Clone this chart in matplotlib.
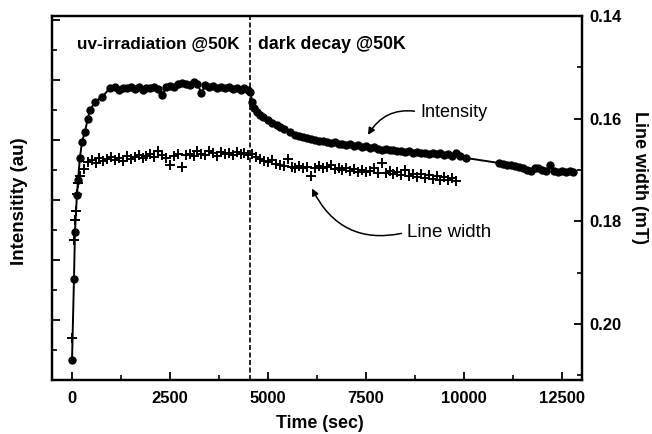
import numpy as np
import matplotlib
matplotlib.use("Agg")
import matplotlib.pyplot as plt
from matplotlib.ticker import MultipleLocator, NullFormatter

plt.rcParams['font.family'] = ['Liberation Sans', 'DejaVu Sans']

# Intensity (au) - left axis
t_int = [0, 50, 75, 125, 155, 200, 255, 330, 400, 460, 590, 765, 970,
         1100, 1200, 1300, 1400, 1500, 1600, 1700, 1800, 1900, 2000, 2100, 2200,
         2300, 2400, 2500, 2600, 2700, 2800, 2900, 3000, 3100, 3200, 3300, 3400,
         3500, 3600, 3700, 3800, 3900, 4000, 4100, 4200, 4300, 4400, 4500,
         4550, 4600, 4650, 4720, 4800, 4870, 5000, 5100, 5230, 5300, 5400, 5560,
         5700, 5800, 5900, 6000, 6100, 6200, 6300, 6400, 6500, 6600, 6700, 6800,
         6900, 7000, 7100, 7200, 7300, 7400, 7500, 7600, 7700, 7800, 7900, 8000,
         8100, 8200, 8300, 8400, 8500, 8600, 8700, 8800, 8900, 9000, 9100, 9200,
         9300, 9400, 9500, 9600, 9700, 9800, 9900, 10050,
         10900, 11000, 11100, 11200, 11300, 11400, 11500, 11600, 11700, 11800,
         11900, 12000, 12100, 12200, 12300, 12400, 12500, 12600, 12700, 12780]
intensity = [0.67, 3.37, 4.93, 6.17, 6.67, 7.40, 7.93, 8.27, 8.70, 9.00, 9.27, 9.43, 9.73,
             9.75, 9.68, 9.74, 9.72, 9.78, 9.70, 9.76, 9.66, 9.74, 9.72, 9.78, 9.70,
             9.50, 9.75, 9.80, 9.77, 9.85, 9.90, 9.88, 9.84, 9.92, 9.86, 9.57, 9.82,
             9.78, 9.80, 9.74, 9.78, 9.72, 9.76, 9.70, 9.74, 9.68, 9.72, 9.66,
             9.60, 9.25, 9.05, 8.93, 8.82, 8.77, 8.68, 8.58, 8.50, 8.44, 8.36, 8.27,
             8.18, 8.14, 8.10, 8.07, 8.03, 8.00, 7.96, 7.95, 7.93, 7.90, 7.92, 7.86,
             7.88, 7.84, 7.85, 7.80, 7.83, 7.78, 7.80, 7.74, 7.76, 7.70, 7.68, 7.70,
             7.65, 7.67, 7.62, 7.64, 7.60, 7.62, 7.57, 7.59, 7.55, 7.57, 7.53, 7.55,
             7.52, 7.55, 7.50, 7.52, 7.48, 7.58, 7.45, 7.40,
             7.23, 7.20, 7.16, 7.18, 7.12, 7.10, 7.05, 7.00, 6.98, 7.05,
             7.08, 7.00, 6.97, 7.15, 6.98, 6.93, 6.97, 6.93, 6.95, 6.93]

# Line width (mT) - right axis
t_lw = [10, 50, 75, 100, 125, 150, 200, 300, 400, 500, 600, 700, 800, 900,
        1000, 1100, 1200, 1300, 1400, 1500, 1600, 1700, 1800, 1900, 2000, 2100,
        2200, 2300, 2400, 2500, 2600, 2700, 2800, 2900, 3000, 3100, 3200, 3300,
        3400, 3500, 3600, 3700, 3800, 3900, 4000, 4100, 4200, 4300, 4400, 4500,
        4600, 4700, 4800, 4900, 5000, 5100, 5200, 5300, 5400, 5500, 5600, 5700,
        5800, 5900, 6000, 6100, 6200, 6300, 6400, 6500, 6600, 6700, 6800, 6900,
        7000, 7100, 7200, 7300, 7400, 7500, 7600, 7700, 7800, 7900, 8000, 8100,
        8200, 8300, 8400, 8500, 8600, 8700, 8800, 8900, 9000, 9100, 9200, 9300,
        9400, 9500, 9600, 9700, 9800]
linewidth = [0.2027, 0.1837, 0.1798, 0.1779, 0.1746, 0.1725, 0.1712, 0.1698, 0.1684,
             0.1680, 0.1686, 0.1676, 0.1682, 0.1678, 0.1674, 0.1680, 0.1676, 0.1683,
             0.1672, 0.1678, 0.1675, 0.1670, 0.1677, 0.1672, 0.1668, 0.1674, 0.1662,
             0.1670, 0.1676, 0.1690, 0.1672, 0.1668, 0.1694, 0.1670, 0.1668, 0.1672,
             0.1663, 0.1668, 0.1670, 0.1662, 0.1667, 0.1673, 0.1664, 0.1668, 0.1666,
             0.1671, 0.1665, 0.1669, 0.1666, 0.1670, 0.1668, 0.1674, 0.1678, 0.1682,
             0.1685, 0.1680, 0.1688, 0.1690, 0.1692, 0.1679, 0.1694, 0.1696, 0.1692,
             0.1697, 0.1694, 0.1712, 0.1696, 0.1693, 0.1697, 0.1695, 0.1690, 0.1698,
             0.1696, 0.1700, 0.1697, 0.1702, 0.1698, 0.1703, 0.1700, 0.1704, 0.1701,
             0.1696, 0.1705, 0.1686, 0.1706, 0.1702, 0.1708, 0.1704, 0.1710, 0.1700,
             0.1712, 0.1707, 0.1714, 0.1708, 0.1716, 0.1710, 0.1718, 0.1712, 0.1719,
             0.1714, 0.1720, 0.1716, 0.1722]

t_switch = 4550

fig = plt.figure(figsize=(6.52, 4.34), dpi=100)
ax = fig.add_axes([0.0798, 0.1244, 0.8128, 0.8387])
ax2 = ax.twinx()

ax.plot(t_int, intensity, color='black', lw=1.4, marker='o', ms=5, zorder=3)
ax2.plot(t_lw, linewidth, linestyle='none', color='black', marker='+', ms=7, mew=1.4)

ax.axvline(t_switch, color='black', lw=1.2, linestyle=(0, (3, 1.5)))

ax.set_xlim(-510, 13010)
ax.set_ylim(0, 12.13)
ax2.set_ylim(0.2109, 0.1400)

ax.xaxis.set_major_locator(MultipleLocator(2500))
ax.xaxis.set_minor_locator(MultipleLocator(1250))
ax.yaxis.set_major_locator(MultipleLocator(2))
ax.yaxis.set_minor_locator(MultipleLocator(1))
ax.yaxis.set_major_formatter(NullFormatter())
ax2.yaxis.set_major_locator(MultipleLocator(0.02))
ax2.yaxis.set_minor_locator(MultipleLocator(0.01))
ax2.yaxis.set_major_formatter(plt.FuncFormatter(lambda v, p: '%.2f' % v))

ax.tick_params(axis='both', which='major', direction='in', length=6, width=1.3)
ax.tick_params(axis='both', which='minor', direction='in', length=3.5, width=1.2)
ax.tick_params(axis='y', which='both', right=False)
ax.tick_params(axis='x', labelsize=12, pad=8)
ax2.tick_params(axis='y', which='major', direction='in', length=6, width=1.3,
                labelsize=12, pad=5)
ax2.tick_params(axis='y', which='minor', direction='in', length=3.5, width=1.2)
for lab in ax.get_xticklabels() + ax2.get_yticklabels():
    lab.set_fontweight('bold')

for a in (ax, ax2):
    for s in a.spines.values():
        s.set_linewidth(1.6)

ax.set_xlabel('Time (sec)', fontsize=12.8, fontweight='bold', va='center')
ax.xaxis.set_label_coords(0.506, -0.12)
ax.set_ylabel('Intensitity (au)', fontsize=13.5, fontweight='bold', va='center')
ax.yaxis.set_label_coords(-0.062, 0.49)
ax2.set_ylabel('Line width (mT)', fontsize=13, fontweight='bold', rotation=-90,
               va='center')
ax2.yaxis.set_label_coords(1.109, 0.555)

ax.text(0.047, 0.923, 'uv-irradiation @50K', transform=ax.transAxes,
        fontsize=12.3, fontweight='bold', va='center', ha='left')
ax.text(0.389, 0.923, 'dark decay @50K', transform=ax.transAxes,
        fontsize=12.8, fontweight='bold', va='center', ha='left')

ax.annotate('Intensity', xy=(7551, 8.17), xytext=(8878, 8.93),
            fontsize=13, va='center', ha='left',
            arrowprops=dict(arrowstyle='-|>', color='black', lw=1.1,
                            relpos=(0, 0.5), shrinkA=2, shrinkB=0,
                            connectionstyle='arc3,rad=0.35', mutation_scale=10))
ax2.annotate('Line width', xy=(6122, 0.1736), xytext=(8546, 0.1821),
             fontsize=13.5, va='center', ha='left',
             arrowprops=dict(arrowstyle='-|>', color='black', lw=1.1,
                             relpos=(0, 0.5), shrinkA=2, shrinkB=0,
                             connectionstyle='arc3,rad=-0.4', mutation_scale=10))

fig.savefig('out.png', dpi=100)
